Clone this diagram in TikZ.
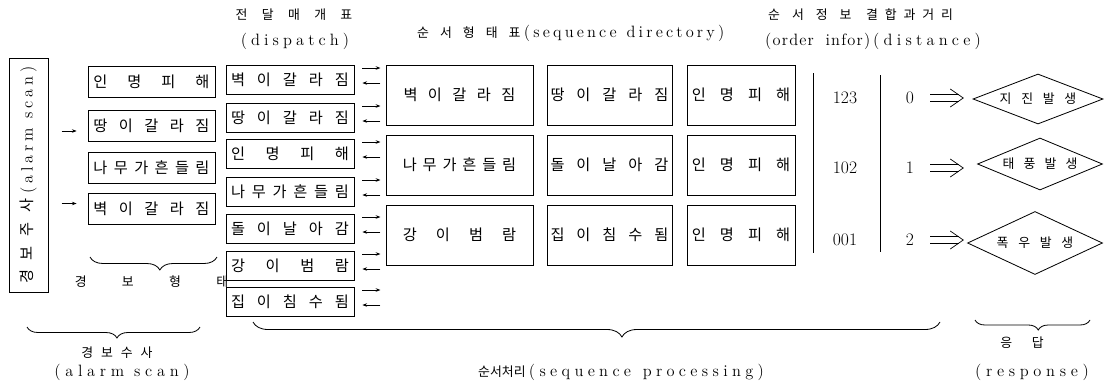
\documentclass[tikz,border=0pt]{standalone}
\usepackage{fontspec}
\newfontfamily\kr{Noto Sans CJK KR}
\usetikzlibrary{shapes.geometric,decorations.pathreplacing,arrows.meta,calc}
\newcommand\spr[2]{\makebox[#1][s]{#2}}
\makeatletter
\newcommand\trk[2]{{\def\tk@sp{#1}\@tfor\tk@c:=#2\do{\tk@c\kern\tk@sp}\kern-\tk@sp}}
\makeatother
\newcommand\en[1]{{\rmfamily\fontsize{14}{16}\selectfont #1}}
\begin{document}
\begin{tikzpicture}[x=0.03cm,y=-0.03cm,
  box/.style={draw, line width=0.7pt, inner sep=0pt, font=\kr\fontsize{13}{15}\selectfont},
  abox/.style={box, minimum width=3.81cm, minimum height=0.93cm},
  dbox/.style={box, minimum width=3.84cm, minimum height=0.87cm},
  sbox/.style={box, minimum height=1.8cm},
  hdr/.style={font=\kr\fontsize{11}{13}\selectfont, inner sep=0pt},
  ent/.style={font=\rmfamily\fontsize{14}{16}\selectfont, inner sep=0pt},
  num/.style={font=\rmfamily\fontsize{15}{17}\selectfont, inner sep=0pt},
  sarrow/.style={-{Stealth[length=4pt,width=3pt]}, line width=0.6pt},
  resp/.style={diamond, aspect=2.6, draw, line width=0.7pt, inner sep=0pt, font=\kr\fontsize{11}{13}\selectfont},
  dline/.style={line width=0.6pt},
  vline/.style={line width=0.7pt},
  brc/.style={decorate, line width=0.7pt}
]
\useasboundingbox (0,0) rectangle (1114,387);

% alarm scan vertical box
\node[box, rotate=90, minimum width=7.02cm, minimum height=1.17cm] (scan) at (28.5,175)
  {\spr{2.55cm}{경 보 주 사}\hspace{0.15cm}\en{\trk{3.3pt}{(alarm}\hspace{0.3cm}\trk{3.3pt}{scan)}}};

% alarm form boxes
\node[abox] (a1) at (151.5,81.5) {\spr{3.48cm}{인 명 피 해}};
\node[abox] (a2) at (151.5,126) {\spr{3.48cm}{땅 이 갈 라 짐}};
\node[abox] (a3) at (151.5,167.5) {\spr{3.48cm}{나 무 가 흔 들 림}};
\node[abox] (a4) at (151.5,208.5) {\spr{3.48cm}{벽 이 갈 라 짐}};

\draw[sarrow] ($(a2.west)+(-26,5)$) -- ($(a2.west)+(-11,5)$);
\draw[sarrow] ($(a4.west)+(-26,-5)$) -- ($(a4.west)+(-11,-5)$);

% dispatch
\node[hdr] (hd) at (294,15) {\spr{3.5cm}{전 달 매 개 표}};
\node[ent] (hde) at (295,41) {\trk{3.5pt}{(dispatch)}};
\node[dbox] (d1) at (290,80) {\spr{3.54cm}{벽 이 갈 라 짐}};
\node[dbox] (d2) at (290,118) {\spr{3.54cm}{땅 이 갈 라 짐}};
\node[dbox] (d3) at (290,154) {\spr{3.54cm}{인 명 피 해}};
\node[dbox] (d4) at (290,192) {\spr{3.54cm}{나 무 가 흔 들 림}};
\node[dbox] (d5) at (290,229) {\spr{3.54cm}{돌 이 날 아 감}};
\node[dbox] (d6) at (290,266) {\spr{3.54cm}{강 이 범 람}};
\node[dbox] (d7) at (290,302) {\spr{3.54cm}{집 이 침 수 됨}};
\foreach \i in {1,...,7}{
  \draw[sarrow] ($(d\i.east)+(8,-12)$) -- ($(d\i.east)+(26,-12)$);
  \draw[sarrow] ($(d\i.east)+(26,3)$) -- ($(d\i.east)+(8,3)$);
}

% sequence directory
\node[anchor=west, inner sep=0pt] (hs) at (417,33)
  {{\kr\fontsize{11}{13}\selectfont\spr{3.1cm}{순 서 형 태 표}}\hspace{0.1cm}\en{\trk{2.7pt}{(sequence}\hspace{0.3cm}\trk{2.7pt}{directory)}}};
\node[sbox, minimum width=4.41cm] (s11) at (459.5,95) {\spr{3.36cm}{벽 이 갈 라 짐}};
\node[sbox, minimum width=3.75cm] (s12) at (609.5,95) {\spr{3.54cm}{땅 이 갈 라 짐}};
\node[sbox, minimum width=3.24cm] (s13) at (741,95) {\spr{2.95cm}{인 명 피 해}};
\node[sbox, minimum width=4.41cm] (s21) at (459.5,165) {\spr{3.4cm}{나 무 가 흔 들 림}};
\node[sbox, minimum width=3.75cm] (s22) at (609.5,165) {\spr{3.54cm}{돌 이 날 아 감}};
\node[sbox, minimum width=3.24cm] (s23) at (741,165) {\spr{2.95cm}{인 명 피 해}};
\node[sbox, minimum width=4.41cm] (s31) at (459.5,235) {\spr{3.4cm}{강 이 범 람}};
\node[sbox, minimum width=3.75cm] (s32) at (609.5,235) {\spr{3.54cm}{집 이 침 수 됨}};
\node[sbox, minimum width=3.24cm] (s33) at (741,235) {\spr{2.95cm}{인 명 피 해}};

% order info / distance
\node[hdr, anchor=west] (ho) at (768,15) {\spr{2.5cm}{순 서 정 보}};
\node[hdr, anchor=west] (hc) at (866,15) {\spr{2.6cm}{결 합 과 거 리}};
\node[ent, anchor=west] (hoe) at (765,41) {\trk{1pt}{(order}\hspace{0.35cm}\trk{1pt}{infor)}};
\node[ent, anchor=west] (hce) at (873,41) {\trk{3.6pt}{(distance)}};
\draw[vline] (813,73) -- (813,253);
\draw[vline] (880,75) -- (880,252);
\node[num] (o1) at (845,98) {123};
\node[num] (o2) at (845,168) {102};
\node[num] (o3) at (845,240) {001};
\node[num] (e1) at (910,98) {0};
\node[num] (e2) at (910,168) {1};
\node[num] (e3) at (910,240) {2};

% responses
\node[resp, minimum width=3.9cm, minimum height=1.5cm] (r1) at (1038,99) {\spr{2.3cm}{지 진 발 생}};
\node[resp, minimum width=3.75cm, minimum height=1.56cm] (r2) at (1040,164) {\spr{2.25cm}{태 풍 발 생}};
\node[resp, minimum width=4.05cm, minimum height=1.89cm] (r3) at (1035,243) {\spr{2.3cm}{폭 우 발 생}};
\foreach \k in {1,2,3}{
  \draw[dline] ($(e\k.east)+(16,-3.5)$) -- ($(e\k.east)+(45,-3.5)$)
               ($(e\k.east)+(16,3.5)$) -- ($(e\k.east)+(45,3.5)$);
  \draw[dline] ($(e\k.east)+(36,-9)$) -- ($(e\k.east)+(49,0)$) -- ($(e\k.east)+(36,9)$);
}

% braces and labels
\draw[brc, decoration={brace, mirror, amplitude=0.39cm, aspect=0.55}] (90,257) -- (217,257);
\node[hdr] (lf) at (151.5,282) {\spr{4.6cm}{경 보 형 태}};
\draw[brc, decoration={brace, mirror, amplitude=0.33cm, aspect=0.52}] (27,327) -- (200,327);
\node[hdr] (ls1) at (117,353) {\spr{2.13cm}{경 보 수 사}};
\node[ent] (ls2) at (122,372) {\trk{4pt}{(alarm}\hspace{0.3cm}\trk{4pt}{scan)}};
\draw[brc, decoration={brace, mirror, amplitude=0.45cm, aspect=0.537}] (253,322) -- (940,322);
\node[anchor=west, inner sep=0pt] (lp) at (478,372)
  {{\kr\fontsize{11}{13}\selectfont 순서처리}\hspace{0.1cm}\en{\trk{3.7pt}{(sequence}\hspace{0.35cm}\trk{3.7pt}{processing)}}};
\draw[brc, decoration={brace, mirror, amplitude=0.3cm, aspect=0.55}] (975,320) -- (1090,320);
\node[hdr] (lr1) at (1022,343) {\spr{1.3cm}{응 답}};
\node[ent] (lr2) at (1032,372) {\trk{4pt}{(response)}};
\end{tikzpicture}
\end{document}
